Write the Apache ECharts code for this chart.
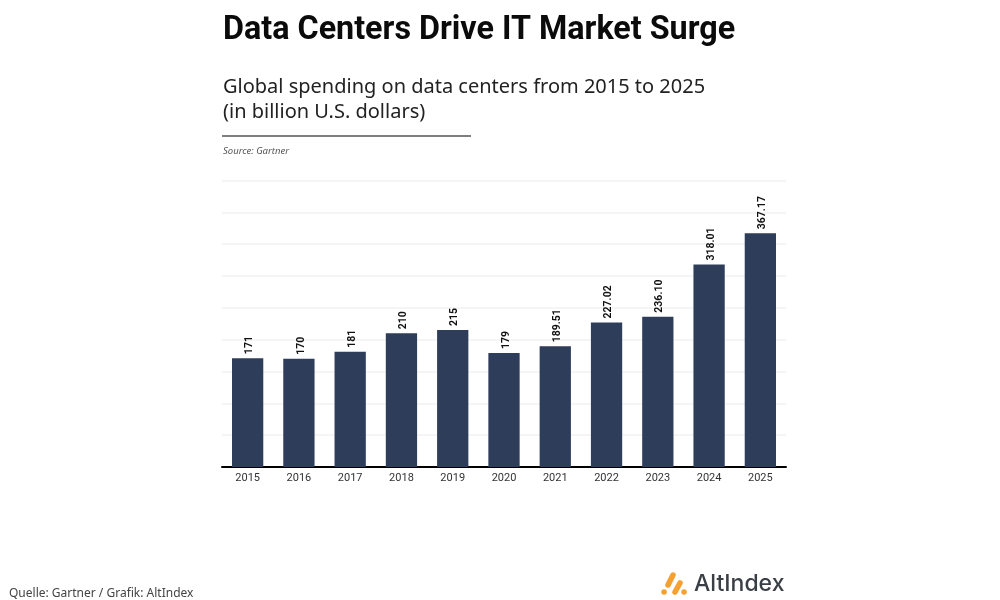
<!DOCTYPE html>
<html>
<head>
<meta charset="utf-8">
<style>html,body{margin:0;padding:0;background:#fff}#main{width:1000px;height:600px}</style>
<script src="https://cdn.jsdelivr.net/npm/echarts@6/dist/echarts.min.js"></script>
</head>
<body>
<div id="main"></div>
<script>
var years = ['2015','2016','2017','2018','2019','2020','2021','2022','2023','2024','2025'];
var spending = [171,170,181,210,215,179,189.51,227.02,236.10,318.01,367.17];
var valueLabels = ['171','170','181','210','215','179','189.51','227.02','236.10','318.01','367.17'];

var myChart = echarts.init(document.getElementById('main'));
var font = '"Noto Sans", sans-serif';
var narrow = 'Roboto, sans-serif';
var orange = '#f5a132';

function stroke(x1, y1, x2, y2) {
  return {type: 'line', shape: {x1: x1, y1: y1, x2: x2, y2: y2}, style: {stroke: orange, lineWidth: 5.5, lineCap: 'round'}};
}

var option = {
  backgroundColor: '#fff',
  animation: false,
  title: [
    {text: 'Data Centers Drive IT Market Surge', left: 223, top: 15, padding: 0, textStyle: {fontFamily: narrow, fontSize: 32.3, fontWeight: 'bold', color: '#0b0b0b'}},
    {text: 'Global spending on data centers from 2015 to 2025\n(in billion U.S. dollars)', left: 223, top: 75, padding: 0, textStyle: {fontFamily: font, fontSize: 20, fontWeight: 'normal', color: '#222', lineHeight: 25}},
    {text: 'Source: Gartner', left: 223, top: 146, padding: 0, textStyle: {fontFamily: font, fontSize: 9.5, fontStyle: 'italic', fontWeight: 'normal', color: '#555'}},
    {text: 'Quelle: Gartner / Grafik: AltIndex', left: 9, top: 588, padding: 0, textStyle: {fontFamily: font, fontSize: 12, fontWeight: 'normal', color: '#444'}},
    {text: 'AltIndex', left: 694, top: 573, padding: 0, textStyle: {fontFamily: 'Inter, sans-serif', fontSize: 23, fontWeight: 500, color: '#3a3f45'}}
  ],
  grid: {left: 222, right: 214, top: 180.5, bottom: 133},
  xAxis: {
    type: 'category',
    data: years,
    axisTick: {show: false},
    axisLine: {lineStyle: {color: '#000', width: 2}},
    axisLabel: {margin: 6, fontFamily: narrow, fontSize: 11, color: '#333'}
  },
  yAxis: {
    type: 'value',
    min: 0,
    max: 450,
    interval: 50,
    axisLabel: {show: false},
    axisLine: {show: false},
    axisTick: {show: false},
    splitLine: {lineStyle: {color: '#f2f2f2', width: 1.5}}
  },
  series: [{
    type: 'bar',
    data: spending,
    barWidth: '61%',
    itemStyle: {color: '#2e3d59'},
    label: {
      show: true,
      position: 'top',
      rotate: 90,
      distance: 4,
      offset: [0, 2],
      align: 'left',
      verticalAlign: 'middle',
      fontFamily: narrow,
      fontSize: 10.5,
      fontWeight: 'bold',
      color: '#111',
      formatter: function (p) { return valueLabels[p.dataIndex]; }
    }
  }],
  graphic: [
    {type: 'line', shape: {x1: 222, y1: 136, x2: 471, y2: 136}, style: {stroke: '#555', lineWidth: 1.5}},
    // logo
    stroke(668, 585, 673, 575),
    stroke(675, 592, 680, 583),
    stroke(664, 592, 664.1, 592),
    stroke(684, 592, 684.1, 592)
  ]
};
myChart.setOption(option);
</script>
</body>
</html>
